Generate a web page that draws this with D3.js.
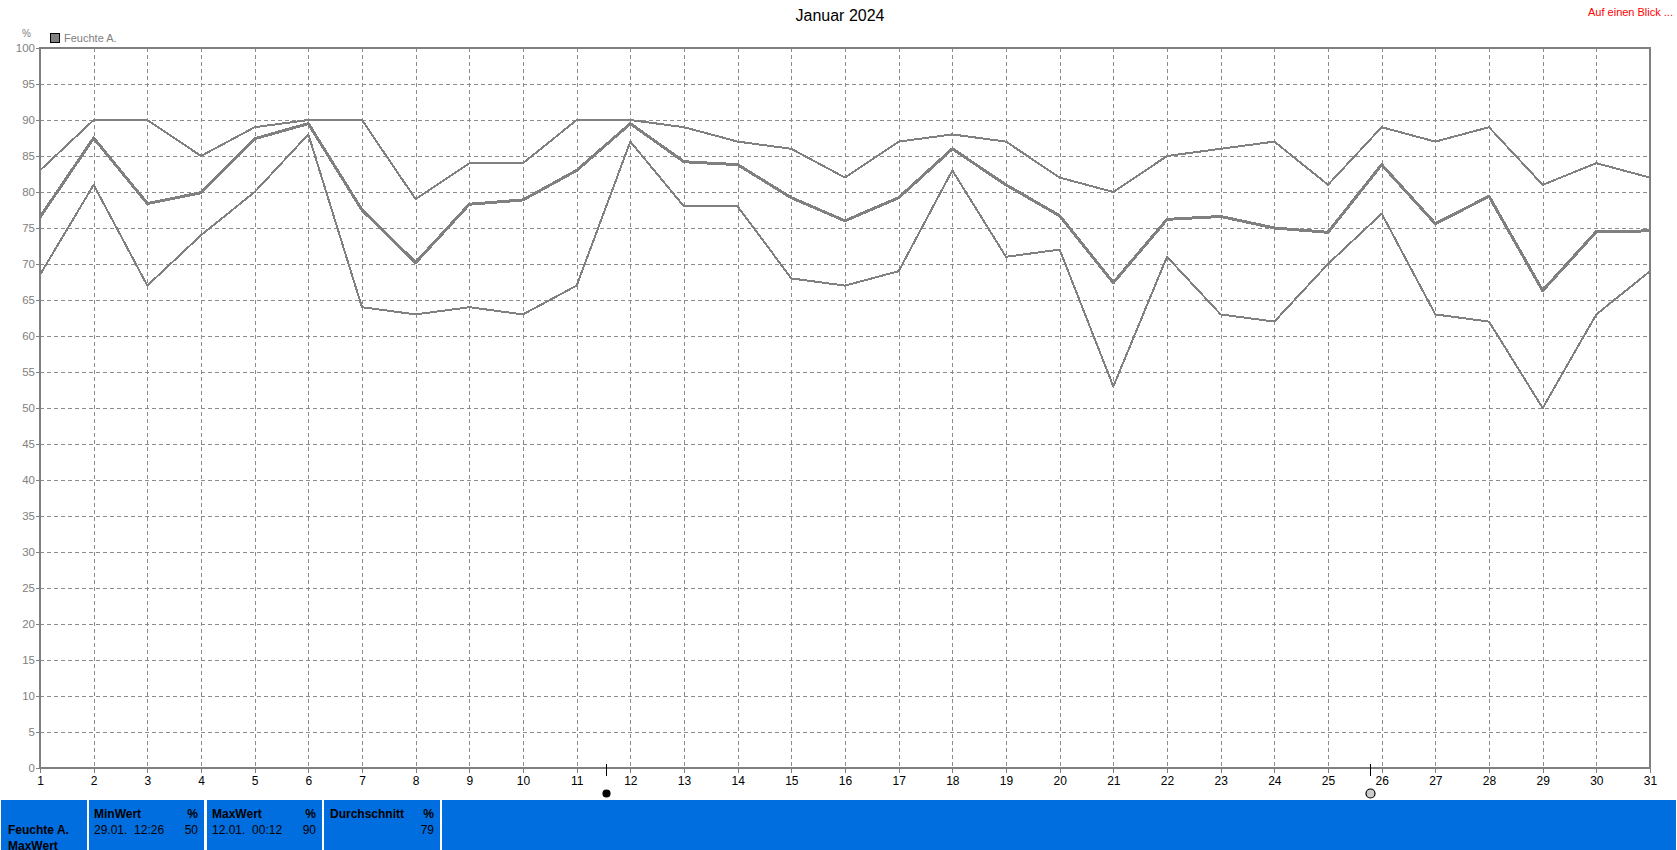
<!DOCTYPE html>
<html><head><meta charset="utf-8">
<script src="https://cdn.jsdelivr.net/npm/d3@7"></script>
<style>
html,body{margin:0;padding:0;background:#fff;overflow:hidden}
svg{display:block}
text{font-family:"Liberation Sans",Arial,sans-serif;font-size:11px;white-space:pre}
</style></head><body><svg id="c" width="1677" height="850"></svg>
<script>
const days = d3.range(1,32);
const maxValues = [83,90,90,85,89,90,90,79,84,84,90,90,89,87,86,82,87,88,87,82,80,85,86,87,81,89,87,89,81,84,82];
const avgValues = [76.5,87.5,78.4,79.9,87.4,89.5,77.5,70.2,78.3,78.9,83,89.5,84.2,83.8,79.2,76,79.2,86,81,76.7,67.4,76.2,76.6,75,74.4,83.8,75.6,79.4,66.3,74.5,74.6];
const minValues = [68.5,81,67,74,80,88,64,63,64,63,67,87,78,78,68,67,69,83,71,72,53,71,63,62,70,77,63,62,50,63,69];
const yTicks = d3.range(0,101,5);
const moonDays = [11.55,25.78];
const moonFills = ["#000","#ccc"];
const moonRadii = [3.5,4.5];
const title = "Januar 2024";
const linkLabel = "Auf einen Blick ...";
const legendLabel = "Feuchte A.";
const unit = "%";
const panelHeaders = ["MinWert","MaxWert","Durchschnitt"];
const panelDates = ["29.01.  12:26","12.01.  00:12",""];
const panelValues = ["50","90","79"];

const L=40,R=1650,T=48,B=768,GREY="#808080",BLUE="#006EDE";
const svg=d3.select("#c");
const x=d3.scaleLinear().domain([1,31]).range([L,R]);
const y=d3.scaleLinear().domain([0,100]).range([B,T]);
const crisp=s=>s.attr("shape-rendering","crispEdges");

// grid
crisp(svg.append("g").selectAll("line").data(yTicks.slice(1,-1)).join("line")
 .attr("x1",L).attr("x2",R).attr("y1",d=>Math.round(y(d))+.5).attr("y2",d=>Math.round(y(d))+.5))
 .attr("stroke","#8c8c8c").attr("stroke-dasharray","4 3");
crisp(svg.append("g").selectAll("line").data(days.slice(1,-1)).join("line")
 .attr("y1",T).attr("y2",B).attr("x1",d=>Math.round(x(d))+.5).attr("x2",d=>Math.round(x(d))+.5))
 .attr("stroke","#8c8c8c").attr("stroke-dasharray","4 3");

// axes
const ay=svg.append("g").attr("transform",`translate(${L},0)`)
 .call(d3.axisLeft(y).tickValues(yTicks).tickSize(4).tickPadding(1));
ay.select(".domain").remove();
ay.selectAll("line").attr("stroke",GREY).attr("shape-rendering","crispEdges");
ay.selectAll("text").attr("fill",GREY).style("font-size","11.5px").style("font-family",'"Liberation Sans"');
const ax=svg.append("g").attr("transform",`translate(0,${B})`)
 .call(d3.axisBottom(x).tickValues(days).tickFormat(d3.format("d")).tickSize(5).tickPadding(3));
ax.select(".domain").remove();
ax.selectAll("line").attr("stroke",GREY).attr("shape-rendering","crispEdges");
ax.selectAll("text").attr("fill","#000").style("font-size","12px").style("font-family",'"Liberation Sans"');

// frame
crisp(svg.append("rect").attr("x",L).attr("y",T).attr("width",R-L).attr("height",B-T))
 .attr("fill","none").attr("stroke",GREY).attr("stroke-width",2);

// series
const line=d3.line().x((d,i)=>x(days[i])).y(d=>y(d));
[[maxValues,2],[minValues,2],[avgValues,3]].forEach(([v,w])=>{
 svg.append("path").attr("d",line(v)).attr("fill","none").attr("stroke",GREY)
  .attr("stroke-width",w).attr("shape-rendering","crispEdges").attr("stroke-linejoin","round");
});

// moon phase markers
moonDays.forEach((d,i)=>{
 const px=Math.round(x(d))+.5;
 crisp(svg.append("line").attr("x1",px).attr("x2",px).attr("y1",764).attr("y2",776)).attr("stroke","#000");
 svg.append("circle").attr("cx",px).attr("cy",793.5).attr("r",moonRadii[i]).attr("fill",moonFills[i]).attr("stroke","#000").attr("stroke-width",1.2);
});

// titles
svg.append("text").attr("x",840).attr("y",21).attr("text-anchor","middle").style("font-size","16px").attr("fill","#000").text(title);
svg.append("text").attr("x",1673).attr("y",16).attr("text-anchor","end").attr("fill","#f00").style("font-size","11px").text(linkLabel);
svg.append("text").attr("x",26.5).attr("y",37).attr("text-anchor","middle").attr("fill",GREY).style("font-size","10px").text(unit);
crisp(svg.append("rect").attr("x",50.5).attr("y",33.5).attr("width",9).attr("height",9)).attr("fill",GREY).attr("stroke","#000");
svg.append("text").attr("x",64).attr("y",42).attr("fill",GREY).style("font-size","11px").text(legendLabel);

// bottom panel
const cells=[[1,87],[89,204],[207,322],[324,440],[442,1676]];
cells.forEach(c=>svg.append("rect").attr("x",c[0]).attr("y",800).attr("width",c[1]-c[0]).attr("height",50).attr("fill",BLUE));
const bold=(px,py,t,a)=>svg.append("text").attr("x",px).attr("y",py).attr("text-anchor",a||"start").attr("fill","#000").style("font-weight","bold").style("font-size","12px").text(t);
const norm=(px,py,t,a)=>svg.append("text").attr("x",px).attr("y",py).attr("text-anchor",a||"start").attr("fill","#000").style("font-size","12px").text(t);
bold(8,834,legendLabel);
bold(8,850,"MaxWert");
[[94,198],[212,316],[330,434]].forEach((p,i)=>{
 bold(p[0],818,panelHeaders[i]);
 bold(p[1],818,unit,"end");
 norm(p[0],834,panelDates[i]);
 norm(p[1],834,panelValues[i],"end");
});
</script></body></html>
